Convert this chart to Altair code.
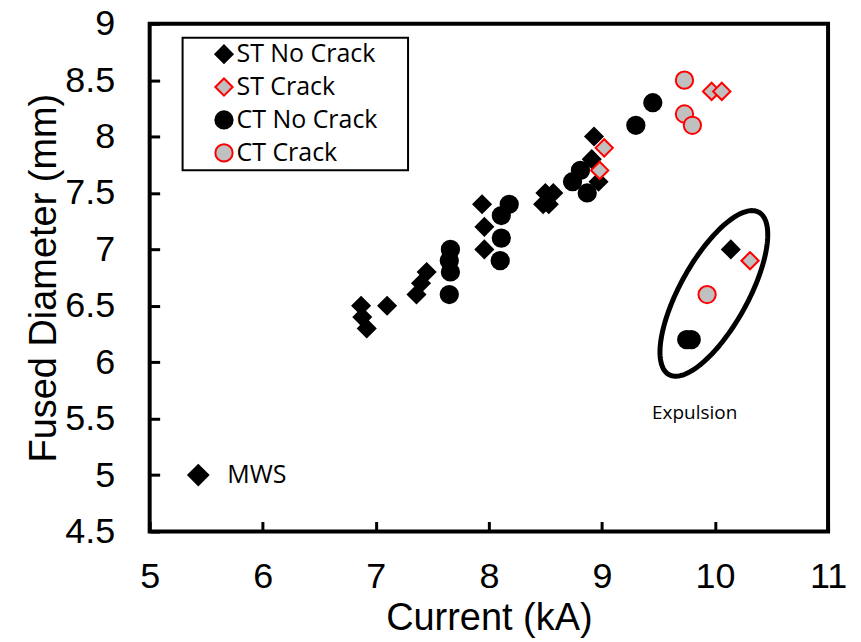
import altair as alt
import pandas as pd
import numpy as np

# ---- data ----
series_names = ["ST No Crack", "ST Crack", "CT No Crack", "CT Crack"]

st_nocrack_x = [6.87, 6.88, 6.92, 7.10, 7.36, 7.40, 7.45, 7.94, 7.96, 7.96,
                8.48, 8.53, 8.50, 8.57, 8.93, 8.91, 8.97, 10.14]
st_nocrack_y = [6.5, 6.4, 6.3, 6.5, 6.6, 6.7, 6.8, 7.4, 7.2, 7.0,
                7.4, 7.4, 7.5, 7.5, 8.0, 7.8, 7.6, 7.0]

ct_nocrack_x = [7.66, 7.65, 7.66, 7.65, 8.18, 8.11, 8.11, 8.10, 8.74, 8.81,
                8.87, 9.30, 9.45, 9.75, 9.79]
ct_nocrack_y = [7.0, 6.9, 6.8, 6.6, 7.4, 7.3, 7.1, 6.9, 7.6, 7.7,
                7.5, 8.1, 8.3, 6.2, 6.2]

st_crack_x = [9.02, 8.98, 9.97, 10.06, 10.31]
st_crack_y = [7.9, 7.7, 8.4, 8.4, 6.9]

ct_crack_x = [9.73, 9.73, 9.80, 9.93]
ct_crack_y = [8.5, 8.2, 8.1, 6.6]

mws_x = [5.43]
mws_y = [5.0]
mws_label = ["MWS"]

expulsion_x = [9.82]
expulsion_y = [5.55]
expulsion_label = ["Expulsion"]

x_ticks = [5, 6, 7, 8, 9, 10, 11]
y_ticks = [4.5, 5, 5.5, 6, 6.5, 7, 7.5, 8, 8.5, 9]

# ellipse annotation (center in data units, radii in px, angle in degrees)
ell_cx, ell_cy = 9.99, 6.61
ell_a, ell_b, ell_angle = 93.0, 34.0, 61.0

W, H = 680, 509
X_DOM = [5, 11]
Y_DOM = [4.5, 9]

# ---- tables ----
rows = []
for name, xs, ys in [("ST No Crack", st_nocrack_x, st_nocrack_y),
                     ("CT No Crack", ct_nocrack_x, ct_nocrack_y),
                     ("ST Crack", st_crack_x, st_crack_y),
                     ("CT Crack", ct_crack_x, ct_crack_y)]:
    for xv, yv in zip(xs, ys):
        rows.append({"x": xv, "y": yv, "series": name})
pts = pd.DataFrame(rows)

t = np.linspace(0, 2 * np.pi, 181)
th = np.deg2rad(ell_angle)
px_x = W / (X_DOM[1] - X_DOM[0])
px_y = H / (Y_DOM[1] - Y_DOM[0])
ell = pd.DataFrame({
    "x": ell_cx + (ell_a * np.cos(t) * np.cos(th) - ell_b * np.sin(t) * np.sin(th)) / px_x,
    "y": ell_cy + (ell_a * np.cos(t) * np.sin(th) + ell_b * np.sin(t) * np.cos(th)) / px_y,
    "i": np.arange(len(t)),
})

mws = pd.DataFrame({"x": mws_x, "y": mws_y, "label": mws_label})
exp_df = pd.DataFrame({"x": expulsion_x, "y": expulsion_y, "label": expulsion_label})

FONT = "Liberation Sans"
LFONT = "Open Sans"

xscale = alt.Scale(domain=X_DOM, nice=False, zero=False)
yscale = alt.Scale(domain=Y_DOM, nice=False, zero=False)

xaxis = alt.Axis(values=x_ticks, title="Current (kA)", format="~g", offset=-10,
                 tickSize=10, tickWidth=3, tickColor="black", domain=False, grid=False,
                 labelFont=FONT, labelFontSize=36, labelColor="black",
                 labelPadding=28, labelFlush=False,
                 titleFont=FONT, titleFontSize=38, titleFontWeight="normal",
                 titleColor="black", titlePadding=5)
yaxis = alt.Axis(values=y_ticks, title="Fused Diameter (mm)", format="~g",
                 offset=-10, tickSize=10, tickWidth=3, tickColor="black",
                 domain=False, grid=False,
                 labelFont=FONT, labelFontSize=36, labelColor="black",
                 labelPadding=35, labelFlush=False,
                 titleFont=FONT, titleFontSize=38, titleFontWeight="normal",
                 titleColor="black", titlePadding=1)

X = alt.X("x:Q", scale=xscale, axis=xaxis)
Y = alt.Y("y:Q", scale=yscale, axis=yaxis)

leg = alt.Legend(title="_", titleOrient="right", titleOpacity=0, titlePadding=13,
                 titleFontSize=24, orient="none", legendX=33, legendY=14)

points = alt.Chart(pts).mark_point(filled=True, strokeWidth=2, opacity=1).encode(
    x=X, y=Y,
    shape=alt.Shape("series:N", scale=alt.Scale(domain=series_names,
                    range=["diamond", "diamond", "circle", "circle"]), legend=leg),
    fill=alt.Fill("series:N", scale=alt.Scale(domain=series_names,
                  range=["black", "#c0c0c0", "black", "#c0c0c0"]), legend=leg),
    stroke=alt.Stroke("series:N", scale=alt.Scale(domain=series_names,
                      range=["black", "red", "black", "red"]), legend=leg),
    size=alt.Size("series:N", scale=alt.Scale(domain=series_names,
                  range=[300, 300, 230, 230]), legend=leg),
)

ellipse = alt.Chart(ell).mark_line(color="black", strokeWidth=5, strokeCap="round").encode(
    x=alt.X("x:Q", scale=xscale), y=alt.Y("y:Q", scale=yscale), order="i:Q"
)

mws_pt = alt.Chart(mws).mark_point(shape="diamond", filled=True, color="black",
                                   size=520, opacity=1).encode(
    x=alt.X("x:Q", scale=xscale), y=alt.Y("y:Q", scale=yscale)
)
mws_txt = alt.Chart(mws).mark_text(align="left", baseline="middle", dx=29,
                                   font=LFONT, fontSize=25, color="black").encode(
    x=alt.X("x:Q", scale=xscale), y=alt.Y("y:Q", scale=yscale), text="label:N"
)
exp_txt = alt.Chart(exp_df).mark_text(align="center", baseline="middle",
                                      font=LFONT, fontSize=19, color="black").encode(
    x=alt.X("x:Q", scale=xscale), y=alt.Y("y:Q", scale=yscale), text="label:N"
)

chart = alt.layer(ellipse, points, mws_pt, mws_txt, exp_txt).properties(
    width=W, height=H,
    autosize=alt.AutoSizeParams(type="none"),
    padding={"left": 142, "top": 15, "right": 25, "bottom": 110},
    background="white",
).configure_view(
    stroke="black", strokeWidth=4
).configure_legend(
    strokeColor="black", strokeWidth=2, padding=4, symbolOffset=25,
    labelOffset=0, labelFont=LFONT, labelFontSize=25, labelColor="black",
    rowPadding=6, symbolStrokeWidth=2, labelLimit=400,
)

chart.save("out.html", embed_options={"renderer": "svg", "actions": False})
